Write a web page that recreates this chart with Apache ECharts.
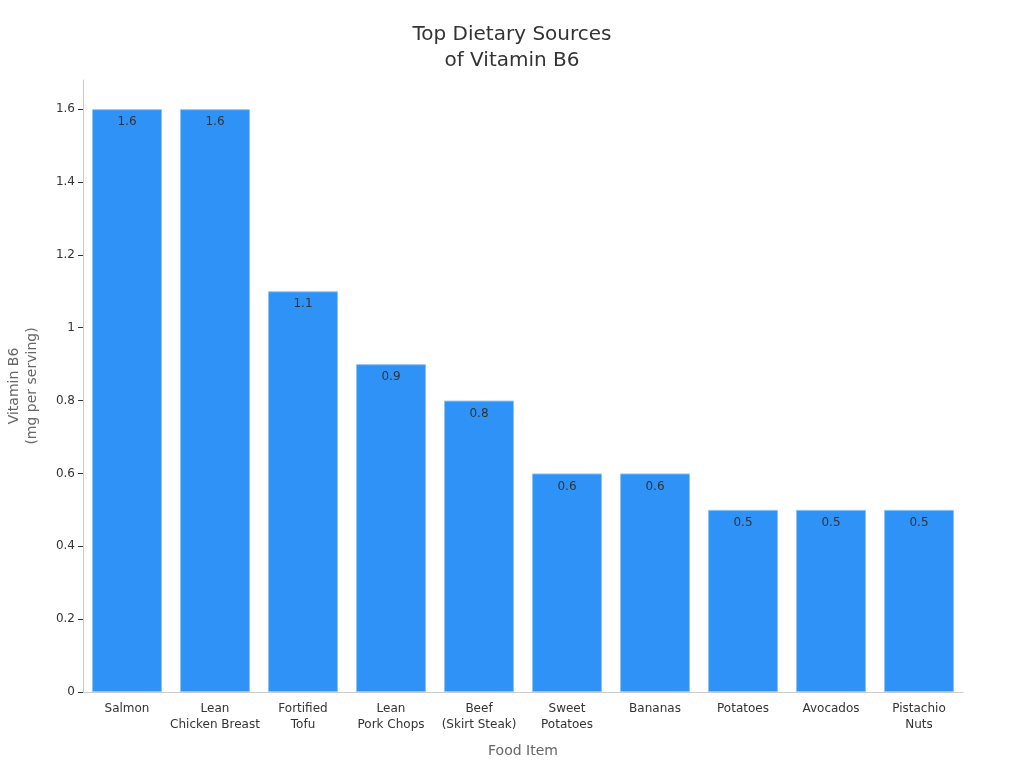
<!DOCTYPE html>
<html>
<head>
<meta charset="utf-8">
<script src="https://cdn.jsdelivr.net/npm/echarts@6/dist/echarts.min.js"></script>
<style>html,body{margin:0;padding:0;background:#fff;}#c{width:1024px;height:768px;}</style>
</head>
<body>
<div id="c"></div>
<script>
var categories = ["Salmon", "Lean\nChicken Breast", "Fortified\nTofu", "Lean\nPork Chops", "Beef\n(Skirt Steak)", "Sweet\nPotatoes", "Bananas", "Potatoes", "Avocados", "Pistachio\nNuts"];
var values = [1.6, 1.6, 1.1, 0.9, 0.8, 0.6, 0.6, 0.5, 0.5, 0.5];
var yTicks = [0, 0.2, 0.4, 0.6, 0.8, 1, 1.2, 1.4, 1.6];

var chart = echarts.init(document.getElementById('c'));
var font = 'DejaVu Sans';
chart.setOption({
  backgroundColor: '#ffffff',
  animation: false,
  title: {
    text: 'Top Dietary Sources\nof Vitamin B6',
    left: 'center',
    top: 17,
    textStyle: { fontFamily: font, fontSize: 20, fontWeight: 'normal', color: '#333333', lineHeight: 26 }
  },
  grid: { left: 83, right: 61, top: 80, bottom: 76, containLabel: false, outerBoundsMode: 'none' },
  xAxis: {
    type: 'category',
    data: categories,
    name: 'Food Item',
    nameLocation: 'middle',
    nameGap: 52,
    nameTextStyle: { fontFamily: font, fontSize: 14, color: '#666666' },
    axisLine: { lineStyle: { color: '#cccccc' } },
    axisTick: { alignWithLabel: true, length: 5, lineStyle: { color: '#999999' } },
    axisLabel: { fontFamily: font, fontSize: 12, color: '#333333', interval: 0, lineHeight: 16, margin: 9 }
  },
  yAxis: {
    type: 'value',
    min: 0,
    max: 1.68,
    name: 'Vitamin B6\n(mg per serving)',
    nameLocation: 'middle',
    nameGap: 42,
    nameRotate: 90,
    nameTextStyle: { fontFamily: font, fontSize: 14, color: '#666666', lineHeight: 18 },
    axisLine: { show: true, lineStyle: { color: '#cccccc' } },
    axisTick: { show: true, length: 5, lineStyle: { color: '#333333' }, customValues: yTicks },
    axisLabel: { fontFamily: font, fontSize: 12, color: '#333333', customValues: yTicks, margin: 8 },
    splitLine: { show: false }
  },
  series: [{
    type: 'bar',
    data: values,
    barWidth: 70,
    itemStyle: { color: '#2f92f7', borderColor: '#8cc6f8', borderWidth: 1 },
    label: {
      show: true,
      position: 'insideTop',
      distance: 7,
      fontFamily: font,
      fontSize: 12,
      color: '#333333'
    }
  }]
});
</script>
</body>
</html>
